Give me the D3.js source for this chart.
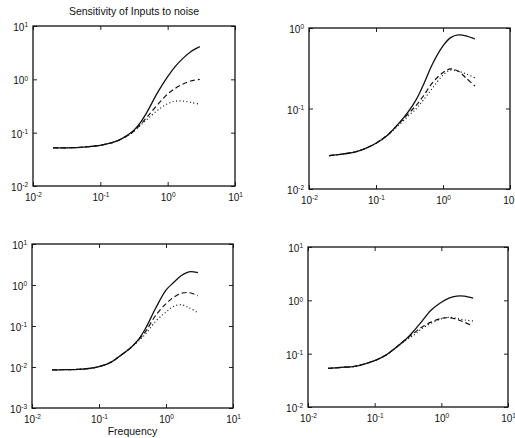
<html>
<head>
<script src="https://d3js.org/d3.v7.min.js"></script>
<style>
  body { margin: 0; background: #fff; }
  text { font-family: "Liberation Sans", Arial, sans-serif; fill: #111; }
</style>
</head>
<body>
<script>
// frequencies shared by every curve
var freq = [0.02, 0.03, 0.05, 0.07, 0.1, 0.15, 0.2, 0.3, 0.4, 0.5, 0.7, 1.0, 1.3, 1.7, 2.2, 3.0];

// top left
var tlSolid  = [0.052, 0.052, 0.053, 0.055, 0.058, 0.065, 0.075, 0.105, 0.16, 0.25, 0.55, 1.12, 1.75, 2.5, 3.3, 4.1];
var tlDashed = [0.052, 0.052, 0.053, 0.055, 0.058, 0.065, 0.075, 0.102, 0.145, 0.2, 0.33, 0.53, 0.68, 0.82, 0.93, 1.0];
var tlDotted = [0.052, 0.052, 0.053, 0.055, 0.058, 0.065, 0.075, 0.1, 0.14, 0.18, 0.26, 0.35, 0.39, 0.39, 0.37, 0.34];

// top right
var trSolid  = [0.026, 0.027, 0.029, 0.032, 0.037, 0.047, 0.06, 0.09, 0.13, 0.19, 0.36, 0.6, 0.76, 0.82, 0.8, 0.73];
var trDashed = [0.026, 0.027, 0.029, 0.032, 0.037, 0.047, 0.06, 0.085, 0.11, 0.14, 0.21, 0.28, 0.31, 0.29, 0.24, 0.19];
var trDotted = [0.026, 0.027, 0.029, 0.032, 0.037, 0.047, 0.058, 0.08, 0.1, 0.125, 0.18, 0.26, 0.3, 0.29, 0.27, 0.24];

// bottom left
var blSolid  = [0.0085, 0.0086, 0.0088, 0.0092, 0.0102, 0.013, 0.018, 0.03, 0.05, 0.09, 0.27, 0.75, 1.15, 1.7, 2.1, 2.0];
var blDashed = [0.0085, 0.0086, 0.0088, 0.0092, 0.0102, 0.013, 0.018, 0.03, 0.048, 0.075, 0.18, 0.35, 0.5, 0.63, 0.65, 0.55];
var blDotted = [0.0085, 0.0086, 0.0088, 0.0092, 0.0102, 0.013, 0.018, 0.03, 0.045, 0.065, 0.13, 0.22, 0.3, 0.33, 0.28, 0.21];

// bottom right
var brSolid  = [0.053, 0.055, 0.058, 0.064, 0.074, 0.095, 0.125, 0.19, 0.28, 0.39, 0.65, 0.92, 1.1, 1.2, 1.2, 1.1];
var brDashed = [0.053, 0.055, 0.058, 0.064, 0.074, 0.095, 0.125, 0.19, 0.25, 0.31, 0.39, 0.46, 0.47, 0.44, 0.39, 0.33];
var brDotted = [0.053, 0.055, 0.058, 0.064, 0.074, 0.095, 0.125, 0.18, 0.23, 0.29, 0.37, 0.45, 0.48, 0.46, 0.43, 0.41];

var xTicks = [-2, -1, 0, 1];
var titleText = "Sensitivity of Inputs to noise";
var xLabelText = "Frequency";

var panels = [
  {x0: 33, x1: 235, y0: 26, y1: 186, yExp: [-2, 1], series: [tlSolid, tlDashed, tlDotted]},
  {x0: 309, x1: 510, y0: 28, y1: 189, yExp: [-2, 0], series: [trSolid, trDashed, trDotted]},
  {x0: 32, x1: 233, y0: 244, y1: 408, yExp: [-3, 1], series: [blSolid, blDashed, blDotted]},
  {x0: 308, x1: 508, y0: 247, y1: 407, yExp: [-2, 1], series: [brSolid, brDashed, brDotted]}
];
var dashes = [null, "5,3", "1,2.5"];

var svg = d3.select("body").append("svg")
    .attr("width", 515)
    .attr("height", 438);

function powLabel(sel) {
  sel.each(function(d) {
    var t = d3.select(this).text("");
    t.append("tspan").text("10");
    t.append("tspan").attr("dy", "-0.55em").attr("font-size", "6.5px").text(Math.round(Math.log10(d)));
  });
}

panels.forEach(function(p) {
  var x = d3.scaleLog().domain([1e-2, 1e1]).range([p.x0, p.x1]);
  var ydom = [Math.pow(10, p.yExp[0]), Math.pow(10, p.yExp[1])];
  var y = d3.scaleLog().domain(ydom).range([p.y1, p.y0]);
  var xt = xTicks.map(function(e) { return Math.pow(10, e); });
  var yt = d3.range(p.yExp[0], p.yExp[1] + 1).map(function(e) { return Math.pow(10, e); });

  var g = svg.append("g");

  // inward ticks on all four sides
  var bottom = g.append("g").attr("transform", "translate(0," + p.y1 + ")")
    .call(d3.axisBottom(x).tickValues(xt).tickSizeInner(-4).tickSizeOuter(0).tickPadding(6));
  var left = g.append("g").attr("transform", "translate(" + p.x0 + ",0)")
    .call(d3.axisLeft(y).tickValues(yt).tickSizeInner(-4).tickSizeOuter(0).tickPadding(5));
  g.append("g").attr("transform", "translate(0," + p.y0 + ")")
    .call(d3.axisTop(x).tickValues(xt).tickSizeInner(-4).tickSizeOuter(0).tickFormat(""));
  g.append("g").attr("transform", "translate(" + p.x1 + ",0)")
    .call(d3.axisRight(y).tickValues(yt).tickSizeInner(-4).tickSizeOuter(0).tickFormat(""));

  g.selectAll(".domain").remove();
  g.selectAll(".tick line").attr("stroke", "#222").attr("stroke-width", 1);

  bottom.selectAll("text").attr("font-size", "10px").attr("fill", "#111").attr("dy", "0.9em").call(powLabel);
  left.selectAll("text").attr("font-size", "10px").attr("fill", "#111").attr("dy", "0.45em").call(powLabel);

  g.append("rect")
    .attr("x", p.x0).attr("y", p.y0)
    .attr("width", p.x1 - p.x0).attr("height", p.y1 - p.y0)
    .attr("fill", "none").attr("stroke", "#111").attr("stroke-width", 1.3);

  var line = d3.line()
    .x(function(d, i) { return x(freq[i]); })
    .y(function(d) { return y(d); })
    .curve(d3.curveCatmullRom.alpha(0.5));

  p.series.forEach(function(s, k) {
    g.append("path")
      .datum(s)
      .attr("d", line)
      .attr("fill", "none")
      .attr("stroke", "#111")
      .attr("stroke-width", k === 0 ? 1.3 : 1.2)
      .attr("stroke-dasharray", dashes[k]);
  });
});

svg.append("text")
  .attr("x", (panels[0].x0 + panels[0].x1) / 2)
  .attr("y", 15)
  .attr("text-anchor", "middle")
  .attr("font-size", "10.5px")
  .text(titleText);

svg.append("text")
  .attr("x", (panels[2].x0 + panels[2].x1) / 2)
  .attr("y", 435)
  .attr("text-anchor", "middle")
  .attr("font-size", "10.5px")
  .text(xLabelText);
</script>
</body>
</html>
